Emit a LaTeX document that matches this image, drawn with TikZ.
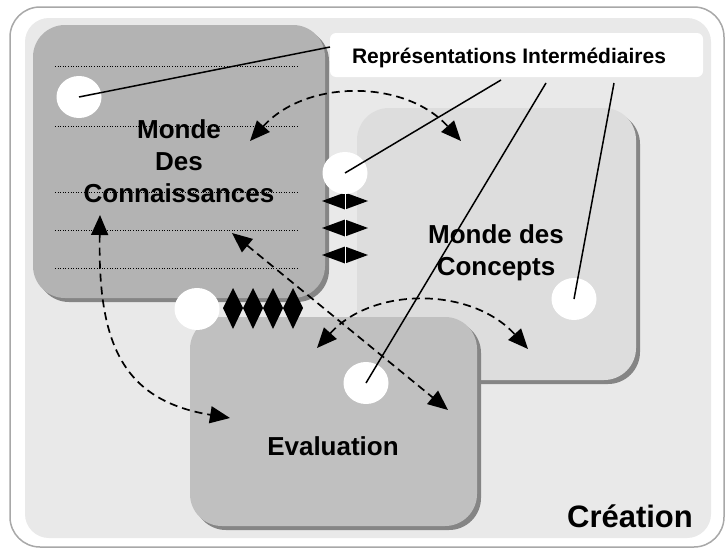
\documentclass[tikz,border=0pt]{standalone}
\usepackage{fontspec}
\setmainfont{Liberation Sans}
\usetikzlibrary{arrows.meta,shapes.geometric,shadows}

\definecolor{panelgray}{HTML}{E9E9E9}
\definecolor{framegray}{HTML}{A8A8A8}
\definecolor{connfill}{HTML}{B3B3B3}
\definecolor{concfill}{HTML}{DDDDDD}
\definecolor{evalfill}{HTML}{C0C0C0}
\definecolor{shadegray}{HTML}{858585}

\begin{document}
\begin{tikzpicture}[x=1pt,y=-1pt,
    world/.style={rounded corners=32pt, inner sep=0pt, align=center,
      font=\bfseries\fontsize{26}{32}\selectfont,
      drop shadow={shadow xshift=4pt, shadow yshift=-4pt, opacity=1, fill=shadegray}},
    wtext/.style={font=\bfseries\fontsize{26}{32}\selectfont, align=center, inner sep=0pt},
    spot/.style={ellipse, fill=white, minimum width=45, minimum height=42, inner sep=0pt},
    link/.style={line width=1.5pt},
    flow/.style={line width=1.7pt, dash pattern=on 8pt off 5pt,
      {Triangle[length=20pt,width=17pt]}-{Triangle[length=20pt,width=17pt]}},
    dots/.style={line width=1pt, dash pattern=on 1pt off 1.6pt}]
    \useasboundingbox (0,0) rectangle (726,549);
    % Frame
    \draw [framegray, line width=1.5pt, fill=white, rounded corners=30pt] (10,7) rectangle (724,547);
    \fill [panelgray, rounded corners=24pt] (25,18) rectangle (711,538);
    % Label box
    \node [fill=white, rounded corners=6pt, minimum width=373, minimum height=44, inner sep=0pt] (repbox) at (516.5,55) {};
    \node [font=\bfseries\fontsize{21}{25}\selectfont, anchor=base, inner sep=0pt] (reps) at (509,63) {Représentations Intermédiaires};
    % Worlds
    \node [world, fill=concfill, minimum width=279, minimum height=272] (conc) at (496.5,244) {};
    \node [world, fill=connfill, minimum width=292, minimum height=273] (conn) at (179,161.5) {Monde\\Des\\Connaissances};
    \node [world, fill=evalfill, minimum width=287, minimum height=209] (eval) at (333.5,421.5) {};
    \foreach \y in {66,126,192,230,268}
        \draw [dots] (55,\y) -- (298,\y);
    \node [wtext] (conctext) at (496,253) {Monde des\\Concepts};
    \node [wtext, anchor=base] (evaltext) at (333,455) {Evaluation};
    \node [font=\bfseries\fontsize{31}{36}\selectfont, anchor=base, inner sep=0pt] (crea) at (630,527) {Création};
    % Links between worlds
    \foreach \y in {201,228,255} {
        \fill (322,\y) -- (345,\y-8.5) -- (345,\y+8.5) -- cycle;
        \fill (368,\y) -- (345,\y-8.5) -- (345,\y+8.5) -- cycle;
        \draw [white, line width=0.8pt] (345,\y-9) -- (345,\y+9);
    }
    \foreach \x in {233,253,273,293}
        \fill (\x-10,308) -- (\x,288) -- (\x+10,308) -- (\x,329) -- cycle;
    % Intermediate representations
    \node [spot] (s1) at (79,97) {};
    \node [spot] (s2) at (345,173) {};
    \node [spot] (s3) at (197,309) {};
    \node [spot] (s4) at (574,299) {};
    \node [spot] (s5) at (366,383) {};
    \coordinate (p1) at (330,47);
    \coordinate (p2) at (501,80);
    \coordinate (p3) at (546,83);
    \coordinate (p4) at (614,83);
    \draw [link] (p1) -- (s1.center);
    \draw [link] (p2) -- (s2.center);
    \draw [link] (p3) -- (s5.center);
    \draw [link] (p4) -- (s4.center);
    % Exchanges
    \coordinate (a1) at (250,141);
    \coordinate (b1) at (461,141);
    \coordinate (a2) at (317,348);
    \coordinate (b2) at (528,349);
    \coordinate (a3) at (232,233);
    \coordinate (b3) at (448,410);
    \coordinate (a4) at (100,215);
    \coordinate (b4) at (230,418);
    \draw [flow] (a1) .. controls (306,79) and (405,79) .. (b1);
    \draw [flow] (a2) .. controls (373,286) and (472,287) .. (b2);
    \draw [flow] (a3) -- (b3);
    \draw [flow] (a4) .. controls (98,340) and (120,400) .. (b4);
\end{tikzpicture}
\end{document}
